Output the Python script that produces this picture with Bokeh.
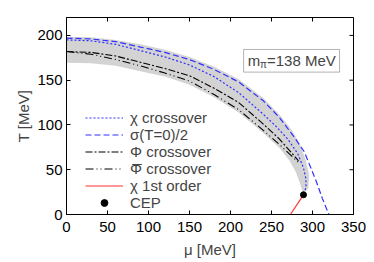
import math
from bokeh.plotting import figure
from bokeh.models import Range1d, Legend, LegendItem, Label, BoxAnnotation, FixedTicker
from bokeh.embed import file_html
from bokeh.resources import INLINE

# ---- data ----
mu_chi = [0, 30, 60, 90, 120, 150, 180, 210, 240, 255, 270, 282, 289, 292, 292, 289]
T_chi = [195, 194, 190, 183, 176, 167, 154, 136, 112, 99, 84, 68, 52, 40, 30, 22]

mu_sigma = [0, 30, 60, 90, 120, 150, 180, 210, 240, 260, 278, 290, 298, 305, 312, 320]
T_sigma = [197, 196, 193, 187, 181, 173, 162, 148, 127, 108, 86, 70, 52, 36, 18, 0]

mu_phi = [0, 30, 60, 90, 120, 150, 180, 210, 240, 260, 283]
T_phi = [182, 181, 177, 170, 163, 155, 141, 125, 101, 84, 60]

mu_phibar = [0, 30, 60, 90, 120, 150, 180, 210, 240, 260, 283]
T_phibar = [182, 179, 173, 166, 158, 149, 134, 117, 94, 78, 58]

mu_band_up = [0, 30, 60, 90, 120, 150, 180, 210, 240, 260, 275, 285, 292, 296, 295, 289]
T_band_up = [198.5, 198, 195, 190, 184, 176, 165, 151, 130, 111, 94, 78, 60, 44, 30, 22]
mu_band_lo = [0, 30, 60, 90, 120, 150, 180, 210, 240, 260, 272, 280, 285, 289]
T_band_lo = [169.5, 169, 166, 160, 154, 145, 131, 114, 91, 74, 60, 47, 34, 22]

mu_first = [273, 289]
T_first = [0, 22]

mu_cep = [289]
T_cep = [22]

x_ticks = [0, 50, 100, 150, 200, 250, 300, 350]
y_ticks = [0, 50, 100, 150, 200]
x_max = 350
y_max = 220

FONT = "Liberation Sans"
FS = "15px"
BLUE = "#3030ff"

p = figure(width=366, height=260, x_range=Range1d(0, x_max), y_range=Range1d(0, y_max),
           output_backend="svg", toolbar_location=None,
           min_border_left=66, min_border_right=13, min_border_top=17, min_border_bottom=45)
p.outline_line_color = "black"
p.grid.grid_line_color = None
p.background_fill_color = "white"
p.border_fill_color = "white"

# band
band_x = mu_band_up + mu_band_lo[::-1]
band_y = T_band_up + T_band_lo[::-1]
p.patch(band_x, band_y, fill_color="#d3d3d3", line_color=None)

r_chi = p.line(mu_chi, T_chi, line_color=BLUE, line_width=1.2, line_dash="2 2")
r_sig = p.line(mu_sigma, T_sigma, line_color=BLUE, line_width=1.2, line_dash="6 3")
r_phi = p.line(mu_phi, T_phi, line_color="black", line_width=1.1, line_dash="7 2 2 2")
r_phib = p.line(mu_phibar, T_phibar, line_color="black", line_width=1.1, line_dash="8 3 1 3 1 3")
r_first = p.line(mu_first, T_first, line_color="#ff3030", line_width=1.2)
r_cep = p.scatter(mu_cep, T_cep, size=6, color="black")

# mirrored inward ticks on top and right (screen-length rays)
p.ray(x=x_ticks, y=[y_max] * len(x_ticks), length=4, length_units="screen",
      angle=-math.pi / 2, line_color="black", line_width=1)
p.ray(x=[x_max] * len(y_ticks), y=y_ticks, length=4, length_units="screen",
      angle=math.pi, line_color="black", line_width=1)

# axes
for ax in (p.xaxis[0], p.yaxis[0]):
    ax.major_tick_in = 4
    ax.major_tick_out = 0
    ax.minor_tick_line_color = None
    ax.major_label_text_font = FONT
    ax.major_label_text_font_size = FS
    ax.major_label_text_color = "black"
    ax.axis_label_text_font = FONT
    ax.axis_label_text_font_size = FS
    ax.axis_label_text_font_style = "normal"
    ax.axis_line_color = "black"

p.xaxis[0].ticker = FixedTicker(ticks=x_ticks)
p.yaxis[0].ticker = FixedTicker(ticks=y_ticks)
p.xaxis[0].axis_label = "μ [MeV]"
p.yaxis[0].axis_label = "T [MeV]"
p.xaxis[0].major_label_standoff = 7
p.yaxis[0].major_label_standoff = 4
p.xaxis[0].axis_label_standoff = 6
p.yaxis[0].axis_label_standoff = 2

legend = Legend(items=[
    LegendItem(label="χ crossover", renderers=[r_chi]),
    LegendItem(label="σ(T=0)/2", renderers=[r_sig]),
    LegendItem(label="Φ crossover", renderers=[r_phi]),
    LegendItem(label="Φ crossover", renderers=[r_phib]),
    LegendItem(label="χ 1st order", renderers=[r_first]),
    LegendItem(label="CEP", renderers=[r_cep]),
], location=(19, 3))
legend.border_line_color = None
legend.background_fill_alpha = 0
legend.glyph_width = 38
legend.glyph_height = 17
legend.label_height = 17
legend.spacing = 0
legend.padding = 0
legend.margin = 0
legend.label_standoff = 7
legend.label_text_font = FONT
legend.label_text_font_size = FS
p.add_layout(legend)

# overline of the Phi-bar legend entry
p.add_layout(Label(x=86.0, y=47.5, text="\u00AF", text_font=FONT, text_font_size="17px",
                   text_align="center", text_baseline="alphabetic"))

# m_pi box
box = BoxAnnotation(left=216, right=333, bottom=159, top=184.3,
                    fill_color="white", fill_alpha=1.0, line_color="black", line_width=1)
p.add_layout(box)
p.add_layout(Label(x=221.0, y=171.7, text="m", text_font=FONT, text_font_size=FS,
                   text_baseline="middle"))
p.add_layout(Label(x=236.0, y=167.0, text="π", text_font=FONT, text_font_size="10px",
                   text_baseline="middle"))
p.add_layout(Label(x=244.5, y=171.7, text="=138 MeV", text_font=FONT, text_font_size=FS,
                   text_baseline="middle"))

open("out.html", "w").write(file_html(p, INLINE))
